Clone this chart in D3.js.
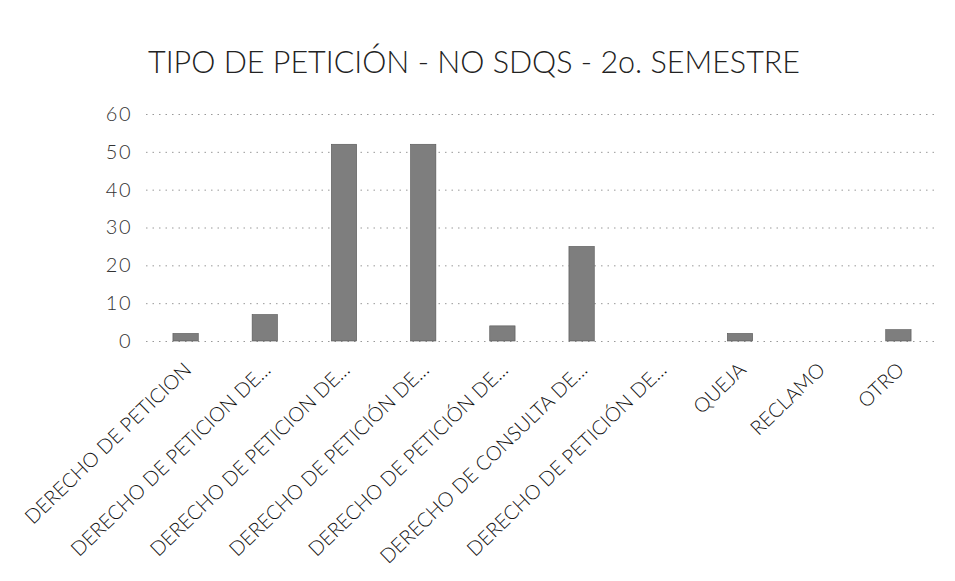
<!DOCTYPE html>
<html><head><meta charset="utf-8">
<script src="https://cdn.jsdelivr.net/npm/d3@7"></script>
<style>body{margin:0;background:#fff}svg{display:block}</style>
</head><body>
<script>
const categories = ["DERECHO DE PETICION","DERECHO DE PETICION DE...","DERECHO DE PETICION DE...","DERECHO DE PETICIÓN DE...","DERECHO DE PETICIÓN DE...","DERECHO DE CONSULTA DE...","DERECHO DE PETICIÓN DE...","QUEJA","RECLAMO","OTRO"];
const values = [2, 7, 52, 52, 4, 25, 0, 2, 0, 3];
const yTicks = [0, 10, 20, 30, 40, 50, 60];
const title = "TIPO DE PETICIÓN - NO SDQS - 2o. SEMESTRE";

const W = 955, H = 581;
const m = {left: 146, right: 17, top: 114, bottom: 240};
const svg = d3.select("body").append("svg").attr("width", W).attr("height", H);
const font = "Lato, 'Open Sans', sans-serif";

const x = d3.scaleBand().domain(d3.range(categories.length)).range([m.left, W - m.right]).paddingInner(0.68).paddingOuter(0.34);
const y = d3.scaleLinear().domain([0, 60]).range([341, 114]);

svg.append("text").attr("x", 474).attr("y", 73).attr("text-anchor", "middle")
  .attr("font-family", font).attr("font-weight", 300).attr("font-size", 32).attr("fill", "#222")
  .attr("textLength", 652).attr("lengthAdjust", "spacingAndGlyphs")
  .text(title);

// grid
const gy = svg.append("g").attr("transform", `translate(${m.left},0)`)
  .call(d3.axisLeft(y).tickValues(yTicks).tickSize(-(W - m.right - m.left)).tickPadding(14));
gy.select(".domain").remove();
gy.selectAll(".tick line").attr("stroke", "#999").attr("stroke-dasharray", "1.5,5").attr("stroke-width", 1);
gy.selectAll(".tick text").attr("font-family", font).attr("font-weight", 300).attr("font-size", 20).attr("fill", "#333")
  .attr("letter-spacing", 1.5);

// bars
svg.append("g").selectAll("rect").data(values).join("rect")
  .attr("x", (d, i) => x(i)).attr("width", x.bandwidth())
  .attr("y", d => y(d)).attr("height", d => y(0) - y(d))
  .attr("fill", "#7e7e7e").attr("stroke", "#555").attr("stroke-width", 0.6);

// x axis labels
const gx = svg.append("g").attr("transform", `translate(0,${y(0)})`)
  .call(d3.axisBottom(x).tickSize(0).tickFormat(i => categories[i]));
gx.select(".domain").remove();
gx.selectAll(".tick text")
  .attr("font-family", font).attr("font-weight", 300).attr("font-size", 20).attr("fill", "#111")
  .attr("text-anchor", "end").attr("dy", 0)
  .attr("transform", "translate(5,28) rotate(-44)");
</script>
</body></html>
